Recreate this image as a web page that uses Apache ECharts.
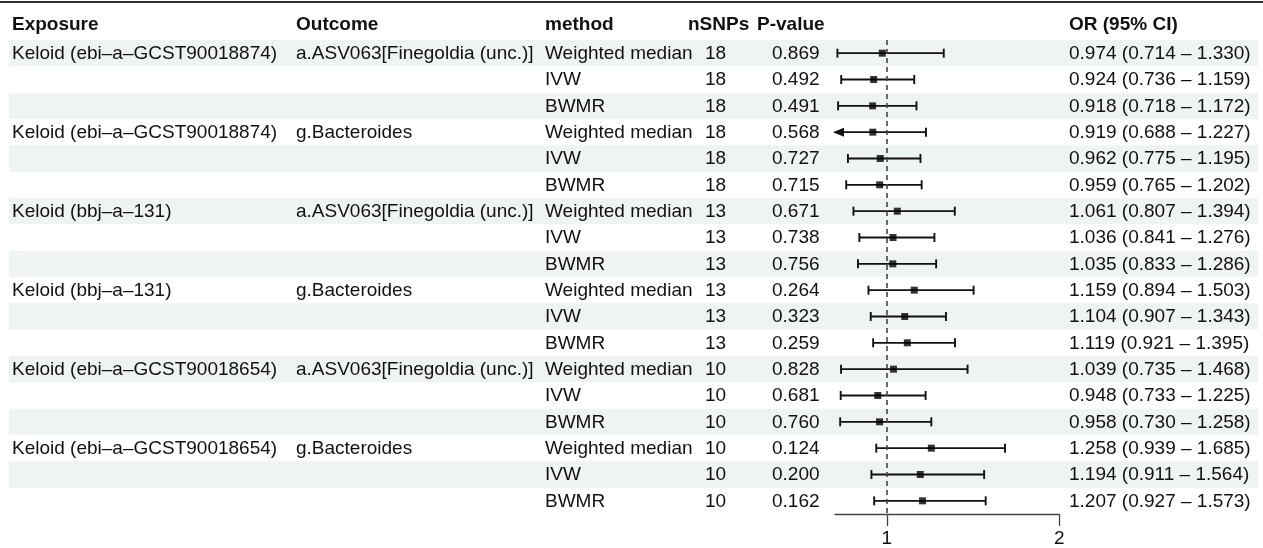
<!DOCTYPE html>
<html>
<head>
<meta charset="utf-8">
<style>
  html, body { margin: 0; padding: 0; background: #ffffff; }
  #chart { width: 1263px; height: 548px; }
</style>
<script src="https://cdn.jsdelivr.net/npm/echarts@6/dist/echarts.min.js"></script>
</head>
<body>
<div id="chart"></div>
<script>
const exposure = [
  "Keloid (ebi–a–GCST90018874)", "", "",
  "Keloid (ebi–a–GCST90018874)", "", "",
  "Keloid (bbj–a–131)", "", "",
  "Keloid (bbj–a–131)", "", "",
  "Keloid (ebi–a–GCST90018654)", "", "",
  "Keloid (ebi–a–GCST90018654)", "", ""
];
const outcome = [
  "a.ASV063[Finegoldia (unc.)]", "", "",
  "g.Bacteroides", "", "",
  "a.ASV063[Finegoldia (unc.)]", "", "",
  "g.Bacteroides", "", "",
  "a.ASV063[Finegoldia (unc.)]", "", "",
  "g.Bacteroides", "", ""
];
const method = [
  "Weighted median", "IVW", "BWMR",
  "Weighted median", "IVW", "BWMR",
  "Weighted median", "IVW", "BWMR",
  "Weighted median", "IVW", "BWMR",
  "Weighted median", "IVW", "BWMR",
  "Weighted median", "IVW", "BWMR"
];
const nsnp = [18, 18, 18, 18, 18, 18, 13, 13, 13, 13, 13, 13, 10, 10, 10, 10, 10, 10];
const pval = ["0.869", "0.492", "0.491", "0.568", "0.727", "0.715", "0.671", "0.738", "0.756",
              "0.264", "0.323", "0.259", "0.828", "0.681", "0.760", "0.124", "0.200", "0.162"];
const orVal = [0.974, 0.924, 0.918, 0.919, 0.962, 0.959, 1.061, 1.036, 1.035,
               1.159, 1.104, 1.119, 1.039, 0.948, 0.958, 1.258, 1.194, 1.207];
const lower = [0.714, 0.736, 0.718, 0.688, 0.775, 0.765, 0.807, 0.841, 0.833,
               0.894, 0.907, 0.921, 0.735, 0.733, 0.730, 0.939, 0.911, 0.927];
const upper = [1.330, 1.159, 1.172, 1.227, 1.195, 1.202, 1.394, 1.276, 1.286,
               1.503, 1.343, 1.395, 1.468, 1.225, 1.258, 1.685, 1.564, 1.573];
const xTicks = [1, 2];
const xRange = [0.7, 2];
const refValue = 1;
const headers = ["Exposure", "Outcome", "method", "nSNPs", "P-value", "OR (95% CI)"];

const FONT = "'Liberation Sans', Arial, Helvetica, sans-serif";
const FS = 19;
const TXT = '#111111';
const rowIdx = method.map((_, i) => i);

const orText = orVal.map((v, i) => v.toFixed(3) + ' (' + lower[i].toFixed(3) + ' – ' + upper[i].toFixed(3) + ')');

const columns = [
  { x: 12, hx: 12, get: i => exposure[i] },
  { x: 296, hx: 296, get: i => outcome[i] },
  { x: 545, hx: 545, get: i => method[i] },
  { x: 705, hx: 688, get: i => String(nsnp[i]) },
  { x: 772, hx: 757, get: i => pval[i] },
  { x: 1069, hx: 1069, get: i => orText[i] }
];

const chart = echarts.init(document.getElementById('chart'), null, { renderer: 'canvas' });

const headerGraphics = columns.map((c, k) => ({
  type: 'text',
  left: c.hx,
  top: 15,
  silent: true,
  style: { text: headers[k], fontSize: FS, fontWeight: 'bold', fontFamily: FONT, fill: TXT }
}));

const option = {
  animation: false,
  backgroundColor: '#ffffff',
  graphic: [
    {
      type: 'line', silent: true,
      shape: { x1: 0, y1: 2, x2: 1263, y2: 2 },
      style: { stroke: '#333333', lineWidth: 2 }
    }
  ].concat(headerGraphics),
  grid: { left: 835, width: 224.4, top: 40, height: 479 },
  xAxis: {
    type: 'value',
    min: xRange[0], max: xRange[1],
    axisLine: { show: true, lineStyle: { color: '#444', width: 1.3 } },
    axisTick: { show: true, customValues: xTicks, length: 12, lineStyle: { color: '#444', width: 1.3 } },
    axisLabel: { customValues: xTicks, fontSize: FS, fontFamily: FONT, color: TXT, margin: 15 },
    splitLine: { show: false }
  },
  yAxis: {
    type: 'category',
    inverse: true,
    data: rowIdx.map(String),
    show: false
  },
  series: [
    {
      type: 'custom',
      name: 'bands',
      z: 0,
      silent: true,
      data: rowIdx.map(i => [refValue, i]),
      encode: { x: 0, y: 1 },
      renderItem: function (params, api) {
        const i = api.value(1);
        if (i % 2 !== 0) return null;
        const y = api.coord([refValue, i])[1];
        const h = api.size([0, 1])[1];
        return {
          type: 'rect',
          shape: { x: 9, y: y - h / 2, width: 1249, height: h },
          style: { fill: '#eff3f2' }
        };
      }
    },
    {
      type: 'custom',
      name: 'table',
      z: 2,
      silent: true,
      data: rowIdx.map(i => [refValue, i]),
      encode: { x: 0, y: 1 },
      renderItem: function (params, api) {
        const i = api.value(1);
        const y = api.coord([refValue, i])[1];
        return {
          type: 'group',
          children: columns.map(c => ({
            type: 'text',
            style: {
              text: c.get(i), x: c.x, y: y + 0.5,
              verticalAlign: 'middle', align: 'left',
              fontSize: FS, fontFamily: FONT, fill: TXT
            }
          }))
        };
      }
    },
    {
      type: 'custom',
      name: 'ci',
      z: 3,
      silent: true,
      data: rowIdx.map(i => [lower[i], upper[i], i]),
      encode: { x: [0, 1], y: 2 },
      renderItem: function (params, api) {
        const lo = api.value(0), hi = api.value(1), i = api.value(2);
        const clippedLo = Math.max(lo, xRange[0]);
        const clippedHi = Math.min(hi, xRange[1]);
        const p0 = api.coord([clippedLo, i]);
        const p1 = api.coord([clippedHi, i]);
        const y = p0[1];
        const st = { stroke: '#111', lineWidth: 1.9 };
        const capH = 4.5;
        const children = [
          { type: 'line', shape: { x1: p0[0], y1: y, x2: p1[0], y2: y }, style: st }
        ];
        if (lo < xRange[0]) {
          children.push({
            type: 'polygon',
            shape: { points: [[p0[0] - 2, y], [p0[0] + 9, y - 4.5], [p0[0] + 9, y + 4.5]] },
            style: { fill: '#111' }
          });
        } else {
          children.push({ type: 'line', shape: { x1: p0[0], y1: y - capH, x2: p0[0], y2: y + capH }, style: st });
        }
        if (hi <= xRange[1]) {
          children.push({ type: 'line', shape: { x1: p1[0], y1: y - capH, x2: p1[0], y2: y + capH }, style: st });
        }
        return { type: 'group', children: children };
      }
    },
    {
      type: 'scatter',
      name: 'OR',
      z: 4,
      silent: true,
      symbol: 'rect',
      symbolSize: 7,
      itemStyle: { color: '#000' },
      data: rowIdx.map(i => [orVal[i], i]),
      markLine: {
        silent: true,
        symbol: ['none', 'none'],
        label: { show: false },
        lineStyle: { type: [5, 4], color: '#444', width: 1.6 },
        data: [{ xAxis: refValue }]
      }
    }
  ]
};
chart.setOption(option);
</script>
</body>
</html>
